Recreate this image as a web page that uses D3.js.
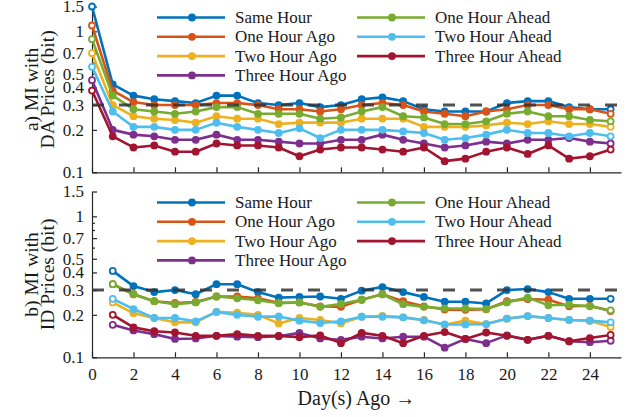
<!DOCTYPE html>
<html>
<head>
<meta charset="utf-8">
<script src="https://cdn.jsdelivr.net/npm/d3@7"></script>
<style>
  body { margin: 0; background: #fff; }
  text { font-family: "Liberation Serif", "DejaVu Serif", serif; fill: #1a1a1a; }
  .axis path, .axis line { stroke: #262626; stroke-width: 1.2; }
  .axis text { font-size: 17px; font-family: "Liberation Serif", serif; fill: #1a1a1a; }
</style>
</head>
<body>
<div id="graphic"></div>
<script>
// series names, in plotting order
var seriesNames = ["Same Hour", "One Hour Ago", "Two Hour Ago", "Three Hour Ago",
                   "One Hour Ahead", "Two Hour Ahead", "Three Hour Ahead"];
var seriesColors = ["#0072BD", "#D95319", "#EDB120", "#7E2F8E", "#77AC30", "#4DBEEE", "#A2142F"];

// a) DA prices, days 0..25
var daDays = d3.range(0, 26);
var sameHourDA   = [1.5, 0.42, 0.35, 0.33, 0.32, 0.31, 0.35, 0.35, 0.31, 0.30, 0.31, 0.29, 0.30, 0.33, 0.34, 0.32, 0.28, 0.27, 0.27, 0.27, 0.31, 0.32, 0.32, 0.29, 0.28, 0.28];
var oneAgoDA     = [1.1, 0.38, 0.315, 0.30, 0.30, 0.30, 0.31, 0.31, 0.30, 0.28, 0.28, 0.27, 0.28, 0.30, 0.31, 0.30, 0.27, 0.26, 0.25, 0.27, 0.28, 0.30, 0.30, 0.28, 0.28, 0.26];
var twoAgoDA     = [0.70, 0.30, 0.25, 0.24, 0.235, 0.225, 0.25, 0.24, 0.24, 0.22, 0.225, 0.225, 0.225, 0.24, 0.24, 0.24, 0.21, 0.21, 0.21, 0.215, 0.225, 0.22, 0.23, 0.22, 0.22, 0.21];
var threeAgoDA   = [0.45, 0.20, 0.185, 0.18, 0.17, 0.17, 0.185, 0.17, 0.17, 0.165, 0.16, 0.16, 0.17, 0.17, 0.185, 0.17, 0.16, 0.15, 0.155, 0.165, 0.16, 0.17, 0.17, 0.175, 0.165, 0.16];
var oneAheadDA   = [0.88, 0.35, 0.28, 0.27, 0.26, 0.27, 0.29, 0.29, 0.26, 0.26, 0.26, 0.24, 0.245, 0.27, 0.29, 0.25, 0.245, 0.22, 0.22, 0.23, 0.26, 0.27, 0.25, 0.25, 0.235, 0.23];
var twoAheadDA   = [0.56, 0.27, 0.21, 0.21, 0.20, 0.20, 0.225, 0.21, 0.20, 0.19, 0.205, 0.175, 0.20, 0.20, 0.20, 0.195, 0.19, 0.17, 0.175, 0.185, 0.20, 0.19, 0.19, 0.18, 0.19, 0.18];
var threeAheadDA = [0.38, 0.18, 0.15, 0.155, 0.14, 0.14, 0.16, 0.155, 0.155, 0.15, 0.13, 0.145, 0.15, 0.15, 0.145, 0.14, 0.15, 0.12, 0.125, 0.14, 0.15, 0.135, 0.155, 0.125, 0.13, 0.145];

// b) ID prices, days 1..25
var idDays = d3.range(1, 26);
var sameHourID   = [0.41, 0.32, 0.29, 0.30, 0.28, 0.33, 0.33, 0.29, 0.265, 0.268, 0.27, 0.26, 0.297, 0.315, 0.29, 0.268, 0.248, 0.248, 0.241, 0.30, 0.305, 0.29, 0.26, 0.26, 0.26];
var oneAgoID     = [0.33, 0.28, 0.25, 0.243, 0.247, 0.27, 0.27, 0.262, 0.244, 0.245, 0.23, 0.228, 0.256, 0.28, 0.25, 0.23, 0.218, 0.217, 0.219, 0.25, 0.259, 0.256, 0.23, 0.232, 0.213];
var twoAgoID     = [0.245, 0.205, 0.19, 0.177, 0.177, 0.21, 0.207, 0.20, 0.174, 0.19, 0.184, 0.174, 0.194, 0.197, 0.192, 0.184, 0.17, 0.182, 0.172, 0.188, 0.196, 0.19, 0.184, 0.182, 0.164];
var threeAgoID   = [0.17, 0.155, 0.146, 0.135, 0.136, 0.142, 0.14, 0.139, 0.141, 0.149, 0.136, 0.133, 0.14, 0.136, 0.14, 0.14, 0.117, 0.135, 0.126, 0.143, 0.133, 0.142, 0.13, 0.128, 0.131];
var oneAheadID   = [0.33, 0.28, 0.25, 0.238, 0.245, 0.27, 0.262, 0.254, 0.242, 0.245, 0.228, 0.239, 0.256, 0.28, 0.238, 0.228, 0.222, 0.222, 0.22, 0.245, 0.265, 0.234, 0.236, 0.23, 0.215];
var twoAheadID   = [0.26, 0.22, 0.19, 0.19, 0.18, 0.21, 0.20, 0.194, 0.195, 0.182, 0.175, 0.18, 0.194, 0.194, 0.192, 0.183, 0.171, 0.171, 0.172, 0.188, 0.196, 0.19, 0.184, 0.182, 0.177];
var threeAheadID = [0.20, 0.163, 0.153, 0.15, 0.142, 0.142, 0.146, 0.142, 0.142, 0.139, 0.143, 0.126, 0.149, 0.142, 0.126, 0.142, 0.151, 0.135, 0.15, 0.142, 0.133, 0.142, 0.13, 0.137, 0.144];

var yTicks = [0.1, 0.2, 0.3, 0.4, 0.5, 0.7, 1, 1.5];
var yMinorTicks = [0.6, 0.8, 0.9];
var xTicks = d3.range(0, 25, 2);
var threshold = 0.3;

var panels = [
  { label: ["a) MI with", "DA Prices (bit)"], days: daDays,
    values: [sameHourDA, oneAgoDA, twoAgoDA, threeAgoDA, oneAheadDA, twoAheadDA, threeAheadDA],
    top: 6.5, bottom: 172.3, showX: false },
  { label: ["b) MI with", "ID Prices (bit)"], days: idDays,
    values: [sameHourID, oneAgoID, twoAgoID, threeAgoID, oneAheadID, twoAheadID, threeAheadID],
    top: 191.5, bottom: 357.3, showX: true }
];

var W = 641, H = 417;
var left = 92, right = 621;

var svg = d3.select("#graphic").append("svg")
    .attr("width", W)
    .attr("height", H);

var x = d3.scaleLinear().domain([0, 25.5]).range([left, right]);

panels.forEach(function(p) {
  var y = d3.scaleLog().domain([0.1, 1.5]).range([p.bottom, p.top]);
  var g = svg.append("g");

  // axes
  g.append("g")
    .attr("class", "axis")
    .attr("transform", "translate(0," + p.bottom + ")")
    .call(d3.axisBottom(x).tickValues(xTicks).tickSizeInner(-5).tickSizeOuter(0)
      .tickPadding(11).tickFormat(p.showX ? d3.format("d") : ""));

  g.append("g")
    .attr("class", "axis")
    .attr("transform", "translate(" + left + ",0)")
    .call(d3.axisLeft(y).tickValues(yTicks).tickSizeInner(-5).tickSizeOuter(0)
      .tickPadding(8).tickFormat(function(d) { return d3.format("~g")(d); }));

  g.append("g")
    .attr("class", "axis")
    .attr("transform", "translate(" + left + ",0)")
    .call(d3.axisLeft(y).tickValues(yMinorTicks).tickSizeInner(-3).tickSizeOuter(0).tickFormat(""))
    .select(".domain").remove();

  // y label, two lines
  var cy = (p.top + p.bottom) / 2;
  g.append("text")
    .attr("transform", "translate(38," + cy + ") rotate(-90)")
    .attr("text-anchor", "middle")
    .style("font-size", "19.5px")
    .text(p.label[0]);
  g.append("text")
    .attr("transform", "translate(54," + cy + ") rotate(-90)")
    .attr("text-anchor", "middle")
    .style("font-size", "19.5px")
    .text(p.label[1]);

  // series
  var line = d3.line()
    .x(function(d) { return x(d[0]); })
    .y(function(d) { return y(d[1]); });

  p.values.forEach(function(vals, i) {
    var pts = vals.map(function(v, j) { return [p.days[j], v]; });
    g.append("path")
      .datum(pts)
      .attr("d", line)
      .attr("fill", "none")
      .attr("stroke", seriesColors[i])
      .attr("stroke-width", 2.6)
      .attr("stroke-linejoin", "round");
    g.selectAll(null)
      .data(pts)
      .enter().append("circle")
      .attr("cx", function(d) { return x(d[0]); })
      .attr("cy", function(d) { return y(d[1]); })
      .attr("r", function(d, j) { return (j === 0 || j === pts.length - 1) ? 3 : 3.9; })
      .attr("fill", function(d, j) { return (j === 0 || j === pts.length - 1) ? "#fff" : seriesColors[i]; })
      .attr("stroke", seriesColors[i])
      .attr("stroke-width", function(d, j) { return (j === 0 || j === pts.length - 1) ? 1.8 : 0; });
  });

  // threshold dashed line
  g.append("line")
    .attr("x1", x(0)).attr("x2", right)
    .attr("y1", y(threshold)).attr("y2", y(threshold))
    .attr("stroke", "#333")
    .attr("stroke-opacity", 0.85)
    .attr("stroke-width", 3)
    .attr("stroke-dasharray", "12,15");

  // legend, two columns
  var rowGap = 19.3;
  var legTop = p.top + 11;
  seriesNames.forEach(function(name, i) {
    var col = i < 4 ? 0 : 1;
    var row = i < 4 ? i : i - 4;
    var lx = col === 0 ? 157 : 357;
    var ly = legTop + row * rowGap;
    var lg = g.append("g");
    lg.append("line")
      .attr("x1", lx).attr("x2", lx + 68)
      .attr("y1", ly).attr("y2", ly)
      .attr("stroke", seriesColors[i])
      .attr("stroke-width", 2.6);
    lg.append("circle")
      .attr("cx", lx + 35).attr("cy", ly)
      .attr("r", 3.9)
      .attr("fill", seriesColors[i]);
    lg.append("text")
      .attr("x", lx + 78).attr("y", ly)
      .attr("dy", "0.33em")
      .style("font-size", "17px")
      .text(name);
  });
});

// x axis label
svg.append("text")
  .attr("x", (left + right) / 2)
  .attr("y", 405)
  .attr("text-anchor", "middle")
  .style("font-size", "20px")
  .text("Day(s) Ago \u2192");
</script>
</body>
</html>
